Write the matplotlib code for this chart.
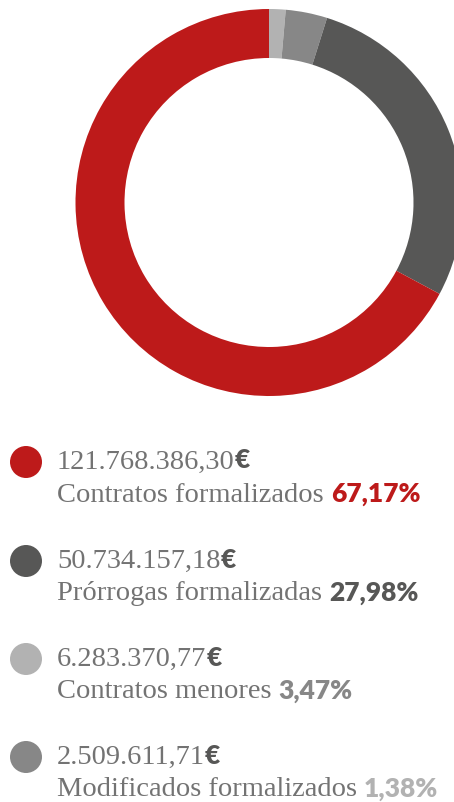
import matplotlib
matplotlib.use("Agg")
import matplotlib.pyplot as plt
from matplotlib.patches import Circle

W, H = 454, 802
RED, DARK, MID, LIGHT = "#bd1a1a", "#575756", "#878787", "#b2b2b2"
TEXT = "#737373"

# legend order
amounts = ["121.768.386,30", "50.734.157,18", "6.283.370,77", "2.509.611,71"]
names = ["Contratos formalizados", "Prórrogas formalizadas", "Contratos menores",
         "Modificados formalizados"]
shares = [67.17, 27.98, 3.47, 1.38]
dot_colors = [RED, DARK, LIGHT, MID]
pct_colors = [RED, DARK, MID, LIGHT]

# donut, clockwise from 12 o'clock
ring_values = [1.38, 3.47, 27.98, 67.17]
ring_colors = [LIGHT, MID, DARK, RED]

fig = plt.figure(figsize=(W / 100, H / 100), dpi=100)
ax = fig.add_axes([0, 0, 1, 1])
ax.pie(ring_values, colors=ring_colors, startangle=90, counterclock=False,
       center=(269, H - 202.5), radius=193.5,
       wedgeprops=dict(width=49, linewidth=0))
ax.set_xlim(0, W)
ax.set_ylim(0, H)
ax.set_aspect("equal")
ax.axis("off")

renderer = fig.canvas.get_renderer()


def run(x, y, parts):
    """Draw text pieces one after another on a baseline; x in pixels."""
    for s, family, size, weight, color in parts:
        t = ax.text(x, y, s, fontsize=size, family=family, fontweight=weight,
                    color=color, va="baseline", ha="left")
        x = t.get_window_extent(renderer).x1


row_y = [462, 561, 659, 757]
for cy, amt, name, pct, dc, pc in zip(row_y, amounts, names, shares, dot_colors, pct_colors):
    ax.add_patch(Circle((26, H - cy), 16, color=dc, lw=0))
    run(57, H - cy - 6.5, [(amt, "Liberation Serif", 20.5, "normal", TEXT),
                           ("€", "Lato", 19, "heavy", DARK)])
    pct_s = f"{pct:.2f}%".replace(".", ",")
    run(57, H - cy - 39.5, [(name + " ", "Liberation Serif", 20.5, "normal", TEXT),
                            (pct_s, "Lato", 19, "heavy", pc)])

fig.savefig("out.png", dpi=100)
